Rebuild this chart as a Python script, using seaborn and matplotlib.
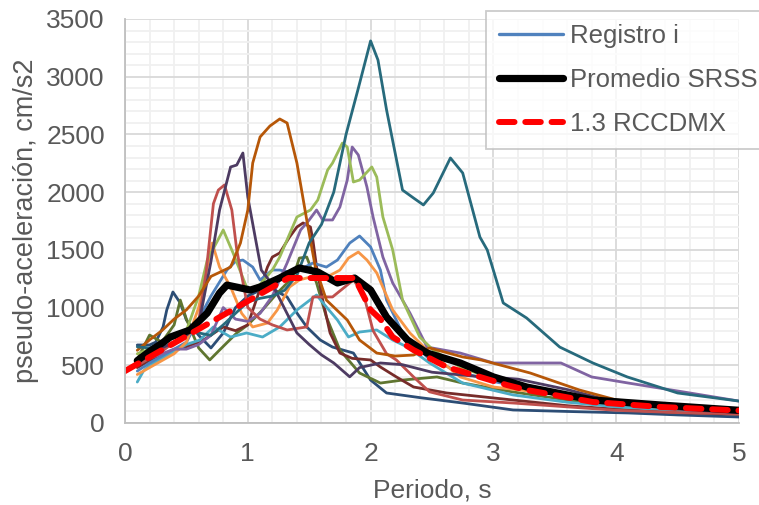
import matplotlib
matplotlib.use("Agg")
import matplotlib.pyplot as plt
from matplotlib.ticker import MultipleLocator
from matplotlib.lines import Line2D
import seaborn as sns
import pandas as pd

# ---------------- data ----------------
reg_names = ["R01", "R02", "R03", "R04", "R05", "R06", "R07", "R08", "R09", "R10", "R11", "R12"]
reg_colors = ["#2C4D75", "#5F7530", "#772C2A", "#4BACC6", "#4F81BD", "#F79646",
              "#8064A2", "#9BBB59", "#C0504D", "#4D3B62", "#B65708", "#276A7C"]

t_r01 = [0.1,0.2,0.25,0.31,0.34,0.39,0.45,0.5,0.6,0.7,0.8,0.9,1.0,1.1,1.18,1.26,1.32,1.4,1.48,1.59,1.69,1.86,2.0,2.13,2.4,2.75,3.16,3.6,4.1,4.5,5.0]
s_r01 = [676,676,700,832,979,1135,1040,892,760,650,780,1000,1100,1150,1178,1126,1092,953,832,719,658,606,372,260,220,173,113,100,87,70,52]

t_r02 = [0.1,0.2,0.3,0.4,0.45,0.5,0.6,0.69,0.77,0.91,1.0,1.12,1.24,1.37,1.42,1.48,1.56,1.64,1.75,1.91,2.08,2.26,2.54,2.75,3.16,3.6,4.0,4.5,5.0]
s_r02 = [550,762,700,850,1065,900,650,546,632,780,850,979,1126,1265,1429,1438,1213,918,632,433,346,372,399,346,269,200,150,110,80]

t_r03 = [0.1,0.2,0.3,0.4,0.5,0.64,0.8,0.9,1.0,1.08,1.16,1.2,1.26,1.34,1.4,1.45,1.51,1.53,1.56,1.61,1.67,1.75,1.85,2.0,2.08,2.21,2.35,2.62,3.16,3.6,4.0,4.5,5.0]
s_r03 = [480,540,580,630,660,719,832,800,850,1100,1351,1438,1473,1611,1698,1733,1698,1585,1351,1065,780,606,560,546,485,399,312,260,199,150,120,90,75]

t_r04 = [0.1,0.15,0.2,0.3,0.4,0.5,0.61,0.72,0.86,0.99,1.12,1.26,1.4,1.56,1.64,1.73,1.82,1.91,2.05,2.18,2.3,2.48,2.75,3.16,3.6,4.0,4.5,5.0]
s_r04 = [355,450,500,560,620,680,719,832,745,780,745,832,979,1109,1005,892,745,788,806,719,658,520,346,243,180,140,110,90]

t_r05 = [0.1,0.2,0.3,0.4,0.5,0.6,0.7,0.83,0.9,0.96,1.04,1.1,1.2,1.26,1.37,1.53,1.64,1.73,1.83,1.91,2.0,2.08,2.13,2.26,2.46,2.7,3.0,3.5,4.0,4.5,5.0]
s_r05 = [450,520,580,640,700,900,1100,1325,1400,1412,1351,1239,1325,1325,1300,1386,1351,1412,1559,1620,1525,1325,1065,780,572,450,360,250,170,130,100]

t_r06 = [0.1,0.2,0.3,0.4,0.5,0.6,0.71,0.77,0.86,0.95,1.04,1.16,1.24,1.34,1.42,1.51,1.62,1.75,1.82,1.9,1.97,2.05,2.18,2.32,2.46,2.73,3.0,3.5,4.0,4.5,5.0]
s_r06 = [420,480,540,600,700,1000,1559,1351,1178,950,832,866,979,1178,1239,1265,1250,1325,1429,1481,1412,1300,979,780,632,399,312,250,170,120,100]

t_r07 = [0.1,0.2,0.3,0.4,0.5,0.6,0.7,0.8,0.9,1.0,1.1,1.2,1.32,1.43,1.5,1.56,1.61,1.69,1.75,1.81,1.85,1.9,1.97,2.02,2.1,2.18,2.32,2.46,2.73,3.0,3.3,3.55,3.8,4.1,4.6,5.0]
s_r07 = [530,560,600,640,640,680,760,1000,900,880,950,1100,1386,1672,1759,1845,1759,1759,1871,2105,2391,2322,2045,1785,1438,1213,953,658,606,520,520,520,399,346,260,190]

t_r08 = [0.1,0.2,0.3,0.4,0.5,0.6,0.67,0.8,0.88,1.0,1.1,1.2,1.26,1.4,1.51,1.57,1.65,1.69,1.77,1.81,1.86,1.91,2.01,2.05,2.1,2.18,2.26,2.4,2.51,2.73,3.0,3.5,4.0,4.5,5.0]
s_r08 = [600,640,700,740,800,1100,1412,1672,1473,1150,1200,1325,1438,1785,1845,1932,2192,2252,2425,2391,2088,2105,2218,2131,1785,1499,1065,745,632,485,380,260,190,140,110]

t_r09 = [0.1,0.2,0.3,0.4,0.5,0.6,0.66,0.72,0.76,0.81,0.87,0.91,1.0,1.1,1.2,1.32,1.48,1.53,1.69,1.86,1.94,2.02,2.13,2.21,2.35,2.48,2.75,3.16,3.6,4.0,4.5,5.0]
s_r09 = [500,560,620,700,760,880,1300,1900,2018,2062,1845,1500,1000,900,850,806,832,1092,1092,1239,1126,800,600,546,399,270,199,173,140,110,90,80]

t_r10 = [0.1,0.2,0.3,0.4,0.5,0.6,0.7,0.77,0.86,0.91,0.96,1.0,1.06,1.11,1.2,1.3,1.4,1.5,1.6,1.7,1.83,1.91,2.08,2.26,2.5,2.8,3.2,3.6,4.0,4.5,5.0]
s_r10 = [560,600,650,700,760,850,1400,1845,2218,2235,2339,1958,1611,1325,1200,990,780,680,590,520,400,480,520,505,440,410,380,290,180,120,90]

t_r11 = [0.1,0.2,0.3,0.4,0.5,0.6,0.7,0.8,0.86,0.94,1.0,1.04,1.1,1.18,1.26,1.32,1.4,1.48,1.55,1.64,1.81,1.91,2.05,2.2,2.35,2.48,2.75,2.9,3.3,3.7,4.0,4.5,5.0]
s_r11 = [630,720,800,900,980,1100,1270,1320,1351,1559,1845,2252,2478,2573,2634,2599,2252,1759,1351,1065,892,719,606,580,589,650,572,546,433,286,200,140,110]

t_r12 = [0.1,0.2,0.3,0.4,0.5,0.6,0.7,0.8,0.9,1.0,1.1,1.2,1.3,1.4,1.5,1.6,1.7,1.8,1.9,2.0,2.06,2.13,2.26,2.35,2.43,2.51,2.65,2.75,2.89,2.95,3.08,3.27,3.54,3.81,4.09,4.5,5.0]
s_r12 = [660,650,700,760,800,780,760,850,950,1050,1080,1100,1150,1280,1560,1720,2000,2500,2900,3310,3145,2712,2018,1949,1889,1992,2296,2166,1611,1499,1040,910,658,520,399,260,190]

t_prom = [0.1,0.2,0.3,0.37,0.53,0.67,0.77,0.83,1.02,1.1,1.26,1.42,1.57,1.73,1.87,2.0,2.13,2.3,2.46,2.73,3.0,3.27,3.81,4.36,5.0]
s_prom = [540,620,690,745,806,953,1126,1195,1152,1178,1256,1343,1308,1213,1256,1152,918,719,606,520,399,312,199,156,110]

t_cdmx = [0.0,1.33,1.87,2.0,2.08,2.18,2.35,2.62,2.89,3.11,3.27,3.81,4.36,4.9,5.0]
s_cdmx = [450,1256,1256,980,900,745,632,485,399,329,286,182,139,113,108]

legend_labels = ["Registro i", "Promedio SRSS", "1.3 RCCDMX"]

# ---------------- build frames ----------------
reg_t = [t_r01, t_r02, t_r03, t_r04, t_r05, t_r06, t_r07, t_r08, t_r09, t_r10, t_r11, t_r12]
reg_s = [s_r01, s_r02, s_r03, s_r04, s_r05, s_r06, s_r07, s_r08, s_r09, s_r10, s_r11, s_r12]
rows = []
for name, tt, ss in zip(reg_names, reg_t, reg_s):
    for a, b in zip(tt, ss):
        rows.append((name, a, b))
df = pd.DataFrame(rows, columns=["reg", "T", "Sa"])
df_prom = pd.DataFrame({"T": t_prom, "Sa": s_prom})
df_cdmx = pd.DataFrame({"T": t_cdmx, "Sa": s_cdmx})

sns.set_style("white")
plt.rcParams["font.family"] = ["Liberation Sans", "DejaVu Sans"]

fig = plt.figure(figsize=(7.59, 5.05), dpi=100)
ax = fig.add_axes([125 / 759, 82 / 505, 614 / 759, 404 / 505])

sns.lineplot(data=df, x="T", y="Sa", hue="reg", hue_order=reg_names,
             palette=reg_colors, estimator=None, legend=False,
             linewidth=2.0, ax=ax)
sns.lineplot(data=df_prom, x="T", y="Sa", color="black", linewidth=5.2,
             estimator=None, ax=ax, solid_capstyle="round", solid_joinstyle="round")
sns.lineplot(data=df_cdmx, x="T", y="Sa", color="#FF0000", linewidth=4.3,
             estimator=None, ax=ax, dashes=False)
ax.lines[-1].set_dashes((2.6, 1.8))
ax.lines[-1].set_dash_capstyle("round")

ax.set_xlim(0, 5)
ax.set_ylim(0, 3500)
ax.xaxis.set_major_locator(MultipleLocator(1))
ax.xaxis.set_minor_locator(MultipleLocator(0.2))
ax.yaxis.set_major_locator(MultipleLocator(500))
ax.yaxis.set_minor_locator(MultipleLocator(100))
ax.set_axisbelow(True)
ax.grid(which="minor", color="#F0F0F0", linewidth=1.3)
ax.grid(which="major", color="#D9D9D9", linewidth=1.3)

for side in ["top", "right"]:
    ax.spines[side].set_visible(False)
for side in ["left", "bottom"]:
    ax.spines[side].set_color("#BFBFBF")
    ax.spines[side].set_linewidth(1.3)

txt = "#595959"
ax.tick_params(which="major", direction="out", length=3.5, width=1.2, color="#BFBFBF",
               labelsize=19, labelcolor=txt)
ax.tick_params(axis="y", pad=11)
ax.tick_params(axis="x", pad=10)
ax.tick_params(which="minor", length=0)
ax.set_xlabel("Periodo, s", fontsize=19, color=txt, labelpad=9)
ax.set_ylabel("pseudo-aceleración, cm/s2", fontsize=19.5, color=txt, labelpad=5)

handles = [
    Line2D([], [], color="#4F81BD", linewidth=2.4),
    Line2D([], [], color="black", linewidth=5.2, solid_capstyle="round"),
    Line2D([], [], color="#FF0000", linewidth=4.3, dashes=(2.6, 1.8), dash_capstyle="round"),
]
leg = fig.legend(handles, legend_labels, loc="upper left",
                 bbox_to_anchor=(486 / 759, 1 - 11 / 505), fontsize=18.5,
                 frameon=True, fancybox=False, handlelength=2.5, handletextpad=0.25,
                 labelspacing=0.78, borderpad=0.5, borderaxespad=0)
leg.get_frame().set_edgecolor("#BFBFBF")
leg.get_frame().set_linewidth(1.3)
for t in leg.get_texts():
    t.set_color(txt)

fig.savefig("out.png", dpi=100)
